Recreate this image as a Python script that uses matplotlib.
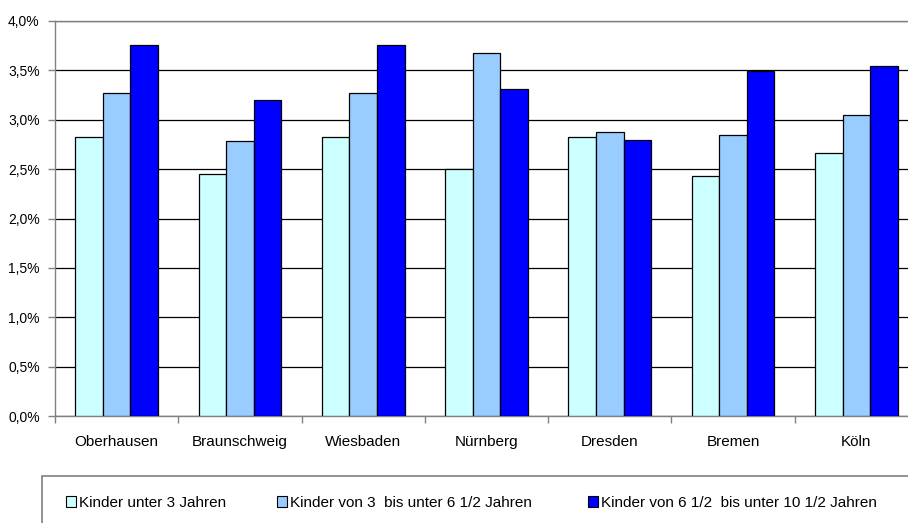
import matplotlib
matplotlib.use("Agg")
import matplotlib.pyplot as plt
from matplotlib.patches import Rectangle, Patch
from matplotlib.ticker import FuncFormatter, MultipleLocator
import numpy as np

plt.rcParams['font.family'] = ['Liberation Sans', 'DejaVu Sans']

cities = ["Oberhausen", "Braunschweig", "Wiesbaden", "Nürnberg", "Dresden", "Bremen", "Köln"]
series_names = [
    "Kinder unter 3 Jahren",
    "Kinder von 3  bis unter 6 1/2 Jahren",
    "Kinder von 6 1/2  bis unter 10 1/2 Jahren",
]
unter_3 = [2.83, 2.45, 2.83, 2.50, 2.83, 2.43, 2.66]
von_3_bis_6 = [3.27, 2.78, 3.27, 3.68, 2.88, 2.85, 3.05]
von_6_bis_10 = [3.76, 3.20, 3.76, 3.31, 2.79, 3.49, 3.54]
colors = ["#CCFFFF", "#99CCFF", "#0000FF"]

W, H = 908, 523
fig = plt.figure(figsize=(W / 100, H / 100), dpi=100)
ax = fig.add_axes([55 / W, 1 - 416 / H, (918 - 55) / W, (416 - 21) / H])

x = np.arange(len(cities))
bw = 0.224
for i, (vals, c) in enumerate(zip([unter_3, von_3_bis_6, von_6_bis_10], colors)):
    ax.bar(x + (i - 1) * bw, vals, width=bw, color=c, edgecolor="black",
           linewidth=0.9, zorder=3)

ax.set_xlim(-0.5, len(cities) - 0.5)
ax.set_ylim(0, 4.0)
ax.yaxis.set_major_locator(MultipleLocator(0.5))
ax.yaxis.set_major_formatter(FuncFormatter(lambda v, p: f"{v:.1f}%".replace(".", ",")))
ax.grid(axis="y", color="black", linewidth=0.9, zorder=0)
ax.set_axisbelow(True)

ax.set_xticks(x)
ax.set_xticklabels(cities, fontsize=11)
ax.tick_params(axis="x", length=0, pad=14)
ax.set_xticks(np.arange(len(cities) + 1) - 0.5, minor=True)
ax.tick_params(axis="x", which="minor", length=5, color="#808080", width=1)
ax.tick_params(axis="y", labelsize=10, length=5, color="#808080", width=1, pad=6)

ax.spines["right"].set_visible(False)
for side in ["top", "left", "bottom"]:
    ax.spines[side].set_color("#808080")
    ax.spines[side].set_linewidth(1)

# frame around the legend, running past the lower and right edges
box_left, box_top = 42 / W, 1 - 476 / H
fig.patches.append(Rectangle((box_left, -0.05), 1.0, box_top + 0.05,
                             transform=fig.transFigure, facecolor="white",
                             edgecolor="#808080", linewidth=1.2, zorder=1))

legend_x = [66, 277, 588]
for name, c, lx in zip(series_names, colors, legend_x):
    fig.legend(handles=[Patch(facecolor=c, edgecolor="black", linewidth=0.8)],
               labels=[name], loc="center left",
               bbox_to_anchor=(lx / W, 1 - 503 / H), frameon=False,
               fontsize=11, handlelength=0.68, handleheight=0.68,
               handletextpad=0.2, borderpad=0, borderaxespad=0)

fig.savefig("out.png", dpi=100)
